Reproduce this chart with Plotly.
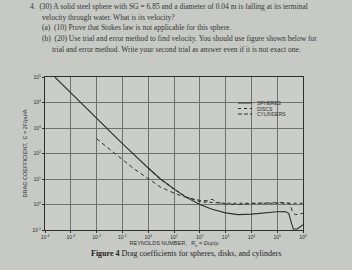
import plotly.graph_objects as go

# ---- data ----
sphere_re = [2.4e-4, 1e-3, 1e-2, 1e-1, 1, 3, 10, 30, 100, 300, 1e3, 3e3, 1e4, 3e4, 1e5, 2e5, 2.8e5, 3.5e5, 4.2e5, 6e5, 1e6]
sphere_cd = [1e5, 2.4e4, 2.4e3, 245, 27, 10, 4.1, 1.9, 1.0, 0.65, 0.47, 0.40, 0.42, 0.47, 0.52, 0.53, 0.45, 0.2, 0.11, 0.11, 0.16]

disc_re = [1, 3, 10, 30, 100, 200, 500, 1e3, 1e4, 1e5, 1e6]
disc_cd = [26.5, 9.8, 4.0, 1.95, 1.3, 1.2, 1.15, 1.12, 1.12, 1.12, 1.12]

cyl_re = [1e-2, 3e-2, 1e-1, 3e-1, 1, 3, 10, 30, 100, 200, 300, 500, 1e3, 3e3, 1e4, 3e4, 1e5, 2e5, 3e5, 4e5, 5e5, 1e6]
cyl_cd = [380, 150, 58, 24, 10, 4.8, 2.8, 1.9, 1.45, 1.4, 1.6, 1.2, 1.05, 1.0, 1.1, 1.15, 1.2, 1.2, 1.1, 0.5, 0.4, 0.45]

x_tickvals = [1e-4, 1e-3, 1e-2, 1e-1, 1, 10, 100, 1e3, 1e4, 1e5, 1e6]
x_ticktext = ["10<sup>-4</sup>", "10<sup>-3</sup>", "10<sup>-2</sup>", "10<sup>-1</sup>", "10<sup>0</sup>",
              "10<sup>1</sup>", "10<sup>2</sup>", "10<sup>3</sup>", "10<sup>4</sup>", "10<sup>5</sup>", "10<sup>6</sup>"]
y_tickvals = [1e-1, 1, 10, 100, 1e3, 1e4, 1e5]
y_ticktext = ["10<sup>-1</sup>", "10<sup>0</sup>", "10<sup>1</sup>", "10<sup>2</sup>", "10<sup>3</sup>",
              "10<sup>4</sup>", "10<sup>5</sup>"]

question_lines = [
    "4.  (30) A solid steel sphere with SG = 6.85 and a diameter of 0.04 m is falling at its terminal",
    "velocity through water. What is its velocity?",
    "(a)  (10) Prove that Stokes law is not applicable for this sphere.",
    "(b)  (20) Use trial and error method to find velocity. You should use figure shown below for",
    "trial and error method. Write your second trial as answer even if it is not exact one.",
]
legend_names = ["SPHERES", "DISCS", "CYLINDERS"]

# ---- layout geometry ----
W, H = 352, 270
L, R, T, B = 45, 303, 77, 230
BG = "#c7c9c5"
INK = "#2e302e"
GRID = "#6e716d"


def px(x):
    return (x - L) / (R - L)


def py(y):
    return (B - y) / (B - T)


fig = go.Figure()
line_kw = dict(color=INK, width=1.1)
fig.add_trace(go.Scatter(x=disc_re, y=disc_cd, mode="lines", line=dict(color=INK, width=1.1, dash="dot"),
                         showlegend=False, hoverinfo="skip"))
fig.add_trace(go.Scatter(x=cyl_re, y=cyl_cd, mode="lines", line=dict(color=INK, width=1.0, dash="4px,3px"),
                         showlegend=False, hoverinfo="skip"))
fig.add_trace(go.Scatter(x=sphere_re, y=sphere_cd, mode="lines", line=line_kw,
                         showlegend=False, hoverinfo="skip"))

axis_common = dict(type="log", showgrid=True, gridcolor=GRID, gridwidth=1, showline=True, linecolor=INK,
                   linewidth=1.2, mirror=True, ticks="outside", ticklen=2, tickcolor=INK, zeroline=False,
                   tickfont=dict(family="Liberation Sans", size=5, color=INK))
fig.update_xaxes(range=[-4, 6], tickvals=x_tickvals, ticktext=x_ticktext, ticklabelstandoff=0,
                 title=dict(text="REYNOLDS NUMBER,   R<sub>e</sub> = <i>Duρ</i>/<i>μ</i>",
                            font=dict(family="Liberation Sans", size=5.5, color=INK), standoff=2),
                 **axis_common)
fig.update_yaxes(range=[-1, 5], tickvals=y_tickvals, ticktext=y_ticktext,
                 title=dict(text="DRAG COEFFICIENT,  C = 2F/ρu²A",
                            font=dict(family="Liberation Sans", size=5.5, color=INK), standoff=4),
                 **axis_common)

ann = []
pos = [(28, 6), (40, 17), (40, 27), (40, 38), (50, 50)]
for (x0, y0), t in zip(pos, question_lines):
    ann.append(dict(x=px(x0), y=py(y0), xref="paper", yref="paper", text=t, showarrow=False,
                    xanchor="left", yanchor="middle",
                    font=dict(family="Liberation Serif", size=7.5, color="#343634")))
ann.append(dict(x=px(186), y=py(254), xref="paper", yref="paper",
                text="<b>Figure 4</b> Drag coefficients for spheres, disks, and cylinders", showarrow=False,
                xanchor="center", yanchor="middle",
                font=dict(family="Liberation Serif", size=8, color="#1f211f")))

shapes = []
leg_y = [103, 108.5, 114]
dashes = ["solid", "dot", "4px,2px"]
for yy, nm, d in zip(leg_y, legend_names, dashes):
    shapes.append(dict(type="line", xref="paper", yref="paper", x0=px(238), x1=px(252), y0=py(yy), y1=py(yy),
                       line=dict(color=INK, width=1, dash=d)))
    ann.append(dict(x=px(255), y=py(yy), xref="paper", yref="paper", text=nm, showarrow=False,
                    xanchor="left", yanchor="middle",
                    font=dict(family="Liberation Sans", size=5, color=INK)))

fig.update_layout(width=W, height=H, margin=dict(l=L, r=W - R, t=T, b=H - B),
                  paper_bgcolor=BG, plot_bgcolor="#cbcdc9", annotations=ann, shapes=shapes,
                  showlegend=False)
fig.write_html("out.html")
